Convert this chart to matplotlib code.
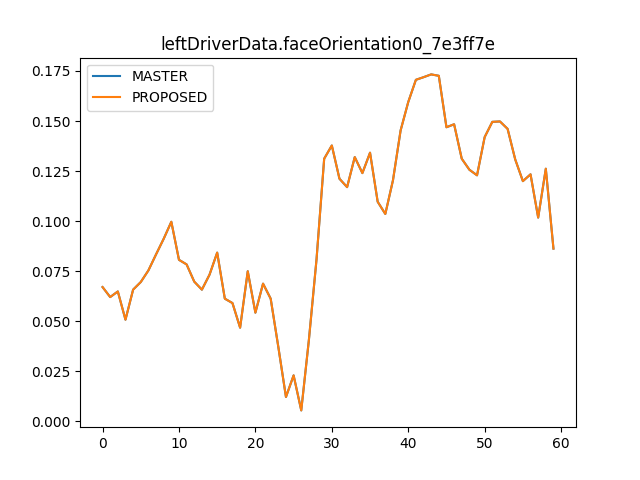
import matplotlib
matplotlib.use("Agg")
import matplotlib.pyplot as plt

x = list(range(60))
master = [0.0671, 0.0621, 0.0649, 0.0508, 0.0658, 0.0696, 0.0754, 0.0834, 0.0912, 0.0997,
          0.0807, 0.0784, 0.0698, 0.0658, 0.0733, 0.0843, 0.0613, 0.0591, 0.0468, 0.0750,
          0.0543, 0.0688, 0.0613, 0.0372, 0.0122, 0.0230, 0.0055, 0.0407, 0.0810, 0.1312,
          0.1378, 0.1212, 0.1170, 0.1320, 0.1240, 0.1342, 0.1097, 0.1036, 0.1204, 0.1453,
          0.1595, 0.1706, 0.1719, 0.1733, 0.1726, 0.1469, 0.1484, 0.1312, 0.1257, 0.1229,
          0.1420, 0.1496, 0.1498, 0.1461, 0.1308, 0.1200, 0.1234, 0.1018, 0.1262, 0.0863]
proposed = list(master)
title = "leftDriverData.faceOrientation0_7e3ff7e"

fig, ax = plt.subplots(figsize=(6.4, 4.8), dpi=100)
ax.plot(x, master, label="MASTER")
ax.plot(x, proposed, label="PROPOSED")
ax.set_title(title)
ax.legend(loc="upper left")
fig.savefig("out.png")
